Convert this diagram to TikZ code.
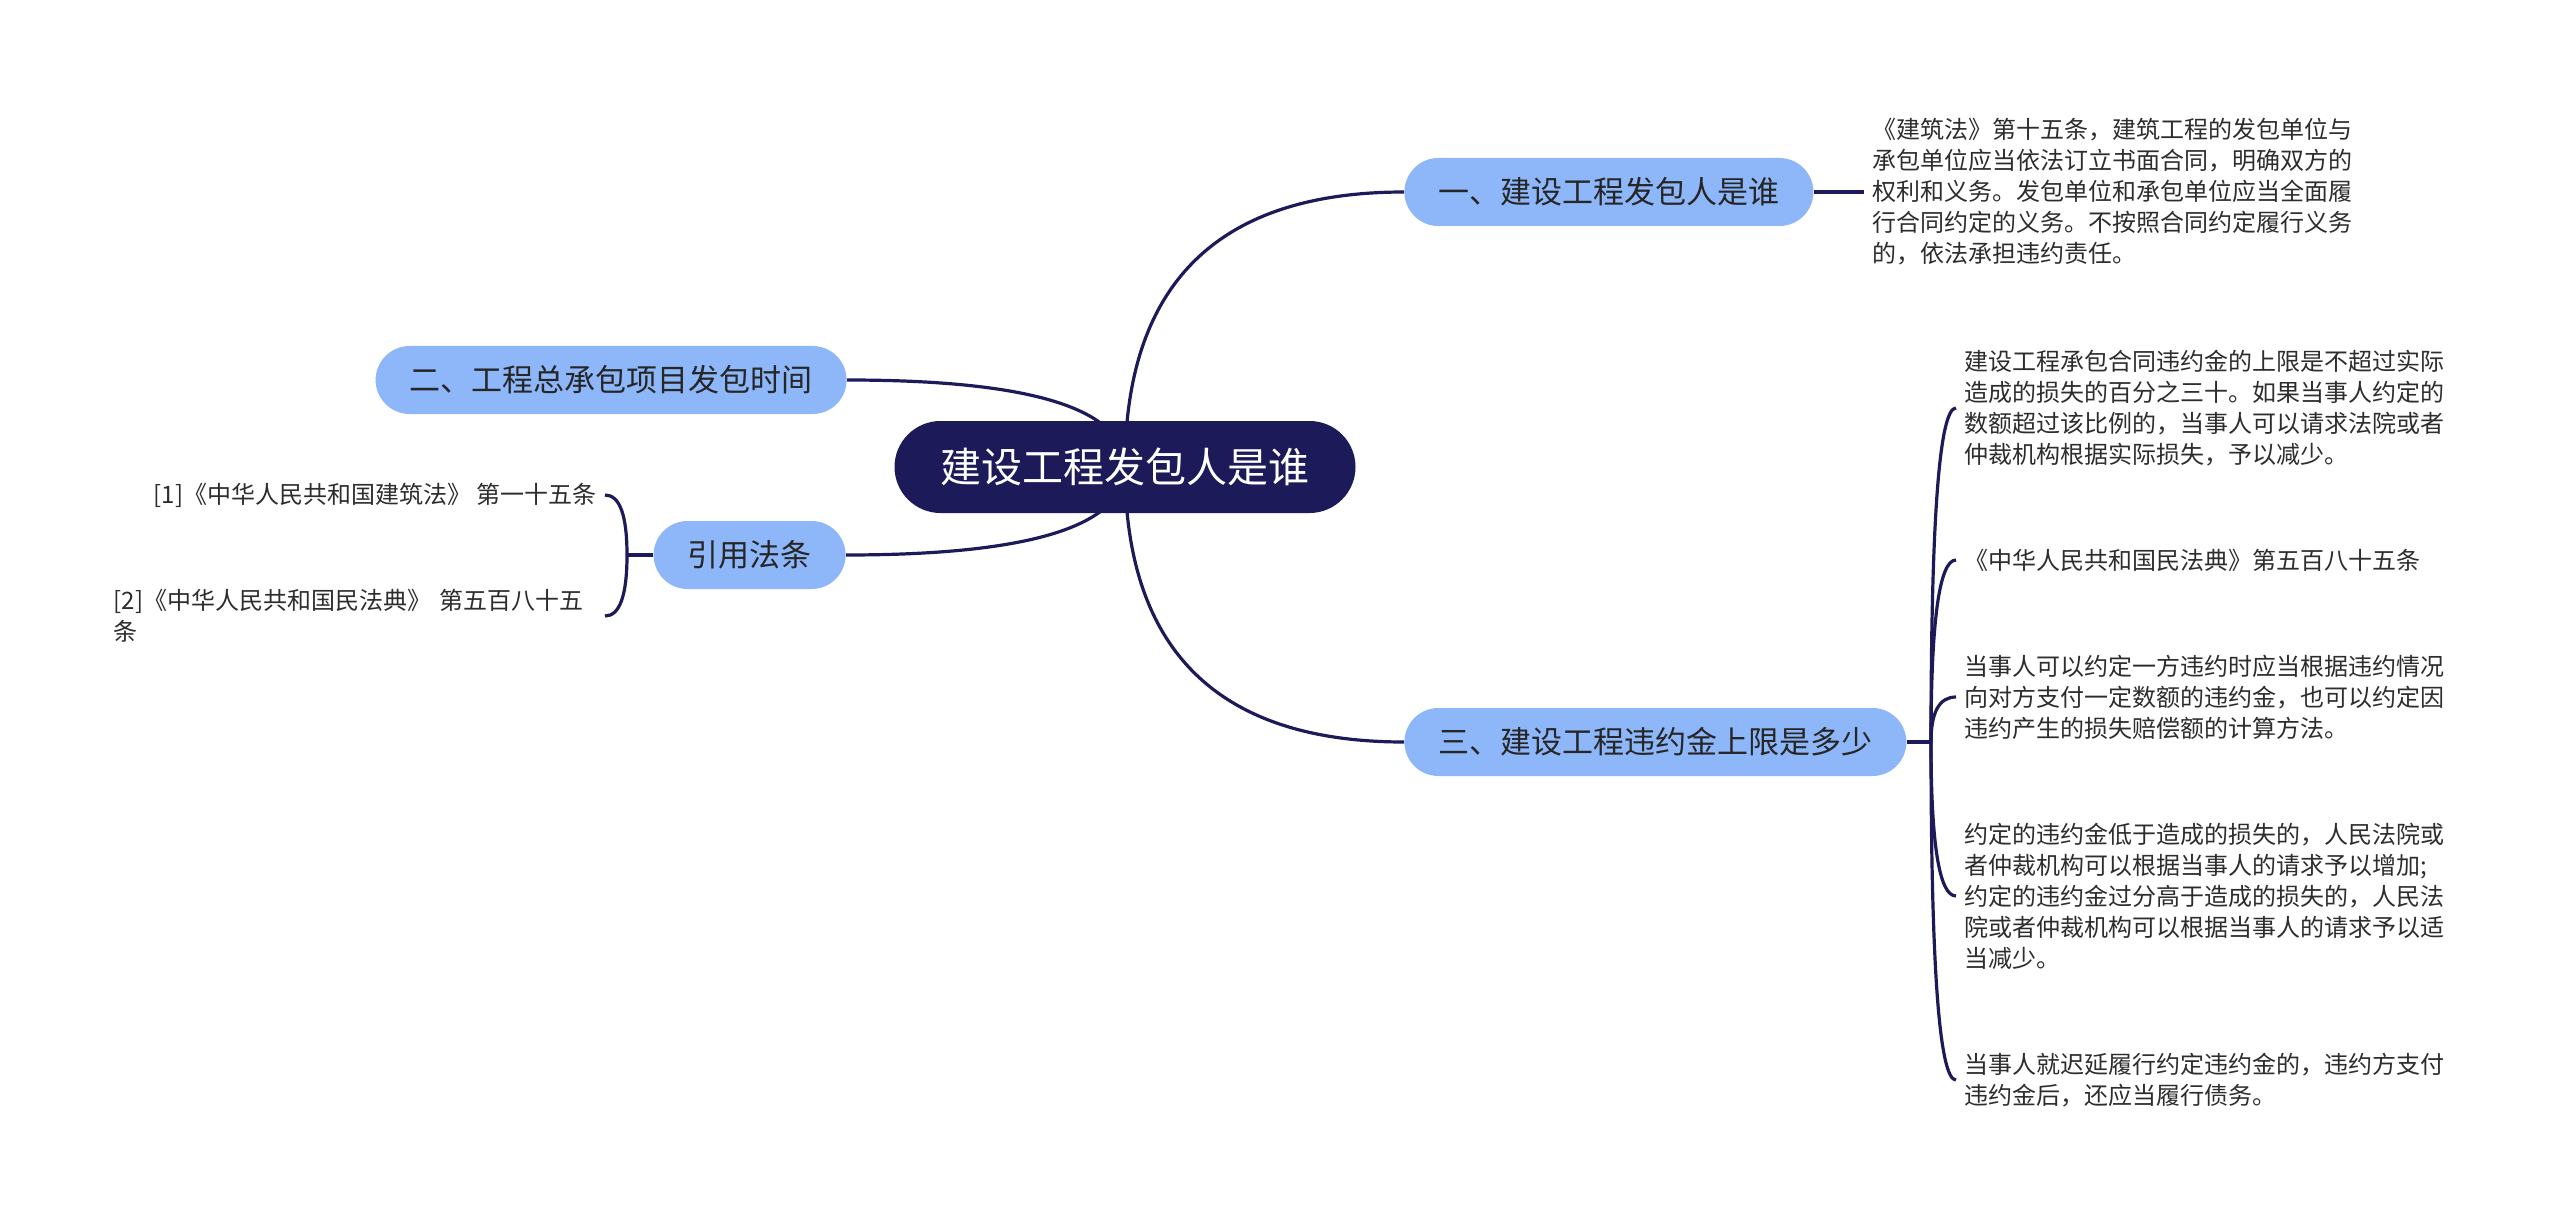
\documentclass[tikz,border=0pt]{standalone}
\usepackage{fontspec}
\setmainfont{Noto Sans CJK SC}
\usetikzlibrary{positioning,backgrounds,calc}

\definecolor{navy}{RGB}{28,26,88}
\definecolor{skyblue}{RGB}{141,183,249}
\definecolor{leafgray}{RGB}{45,45,45}

\begin{document}
\begin{tikzpicture}[x=0.5pt, y=-0.5pt,
        root/.style={rounded corners=23pt, fill=navy, text=white, font=\fontsize{20.5}{24}\selectfont, minimum height=46pt, inner xsep=23pt},
        branch/.style={rounded corners=17pt, fill=skyblue, text=black!85, font=\fontsize{15.5}{18}\selectfont, minimum height=34pt, inner xsep=17pt},
        leaf/.style={align=left, text=leafgray, font=\fontsize{12}{15.5}\selectfont, inner xsep=4pt, inner ysep=2pt},
        edge_style/.style={draw=navy, line width=1.6pt},
        bend_v/.style={to path={.. controls ($(\tikztostart)!0.667!(\tikztostart |- \tikztotarget)$) and ($(\tikztotarget)!0.667!(\tikztostart |- \tikztotarget)$) .. (\tikztotarget)}}]
        \useasboundingbox (0,0) rectangle (2560,1225);

        % main topic and branches
        \node[root] (R) at (1125,467) {建设工程发包人是谁};
        \node[branch, anchor=west] (B1) at (1404,192) {一、建设工程发包人是谁};
        \node[branch, anchor=east] (B2) at (847,380) {二、工程总承包项目发包时间};
        \node[branch, anchor=west] (B3) at (1404,742) {三、建设工程违约金上限是多少};
        \node[branch, anchor=east] (B4) at (846,555) {引用法条};

        % right side texts
        \node[leaf, anchor=west] (T1) at (1864,192) {《建筑法》第十五条，建筑工程的发包单位与\\承包单位应当依法订立书面合同，明确双方的\\权利和义务。发包单位和承包单位应当全面履\\行合同约定的义务。不按照合同约定履行义务\\的，依法承担违约责任。};
        \node[leaf, anchor=west] (L1) at (1956,408) {建设工程承包合同违约金的上限是不超过实际\\造成的损失的百分之三十。如果当事人约定的\\数额超过该比例的，当事人可以请求法院或者\\仲裁机构根据实际损失，予以减少。};
        \node[leaf, anchor=west] (L2) at (1956,560) {《中华人民共和国民法典》第五百八十五条};
        \node[leaf, anchor=west] (L3) at (1956,697) {当事人可以约定一方违约时应当根据违约情况\\向对方支付一定数额的违约金，也可以约定因\\违约产生的损失赔偿额的计算方法。};
        \node[leaf, anchor=west] (L4) at (1956,896) {约定的违约金低于造成的损失的，人民法院或\\者仲裁机构可以根据当事人的请求予以增加;\\约定的违约金过分高于造成的损失的，人民法\\院或者仲裁机构可以根据当事人的请求予以适\\当减少。};
        \node[leaf, anchor=west] (L5) at (1956,1080) {当事人就迟延履行约定违约金的，违约方支付\\违约金后，还应当履行债务。};

        % left side texts
        \node[leaf, anchor=east, align=right] (C1) at (605,495) {[1]《中华人民共和国建筑法》 第一十五条};
        \node[leaf, anchor=east, text width=241.5pt] (C2) at (605,616) {[2]《中华人民共和国民法典》 第五百八十五\\条};

        \coordinate (J3) at (1931,742);
        \coordinate (J4) at (627,555);

        \begin{scope}[on background layer]
          \fill[white] (0,0) rectangle (2560,1225);
          \foreach \b in {B1,B3}
            \draw[edge_style] (R.center) to[bend_v] (\b.west);
          \foreach \b in {B2,B4}
            \draw[edge_style] (R.center) to[bend_v] (\b.east);
          \draw[edge_style] (B1.east) -- (T1.west);
          \draw[edge_style] (B3.east) -- (J3);
          \foreach \n in {L1,L2,L3,L4,L5}
            \draw[edge_style] (J3) to[bend_v] (\n.west);
          \draw[edge_style] (B4.west) -- (J4);
          \foreach \n in {C1,C2}
            \draw[edge_style] (J4) to[bend_v] (\n.east);
        \end{scope}
      \end{tikzpicture}
\end{document}
